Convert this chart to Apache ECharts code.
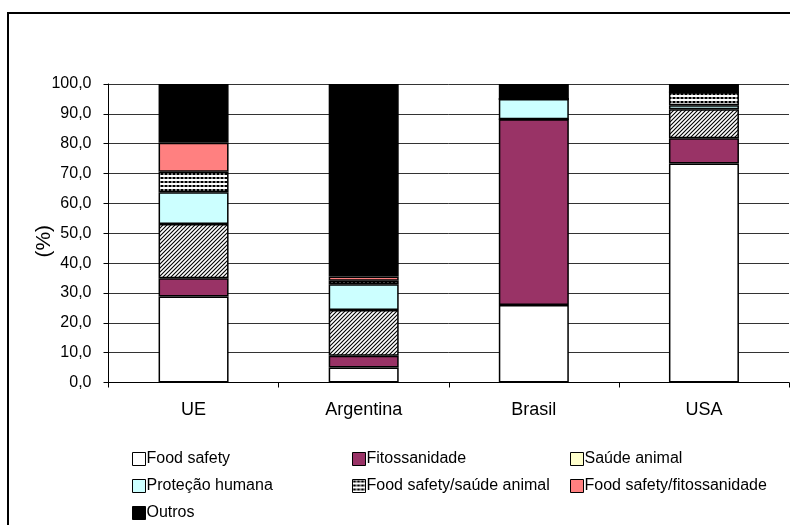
<!DOCTYPE html>
<html>
<head>
<meta charset="utf-8">
<script src="https://cdn.jsdelivr.net/npm/echarts@6/dist/echarts.min.js"></script>
<style>
  html, body { margin: 0; padding: 0; background: #fff; }
  #chart { width: 790px; height: 525px; }
</style>
</head>
<body>
<div id="chart"></div>
<script>
// Share (%) of notifications by category, per market
const categories = ['UE', 'Argentina', 'Brasil', 'USA'];
const foodSafety       = [28.8,  5.0, 26.0, 73.4];
const fitossanidade    = [ 6.1,  4.0, 62.2,  8.4];
const saudeAnimal      = [18.2, 15.3,  0.0,  9.7];
const protecaoHumana   = [10.6,  8.6,  6.8,  1.4];
const fsSaudeAnimal    = [ 6.9,  1.2,  0.0,  4.3];
const fsFitossanidade  = [ 9.7,  1.4,  0.0,  0.0];
const outros           = [19.7, 64.5,  5.0,  2.8];
const yTicks = [0, 10, 20, 30, 40, 50, 60, 70, 80, 90, 100];

const FONT = '"Liberation Sans", Arial, sans-serif';

// Diagonal hatch fill
function hatchPattern() {
  const c = document.createElement('canvas');
  c.width = 4; c.height = 4;
  const g = c.getContext('2d');
  g.fillStyle = '#fff'; g.fillRect(0, 0, 4, 4);
  g.strokeStyle = '#000'; g.lineWidth = 1.1;
  g.beginPath();
  g.moveTo(-1, 5); g.lineTo(5, -1);
  g.moveTo(-1, 1); g.lineTo(1, -1);
  g.moveTo(3, 5); g.lineTo(5, 3);
  g.stroke();
  return c;
}
// Dotted fill: rows of small black dots
function dotPattern() {
  const c = document.createElement('canvas');
  c.width = 4; c.height = 4;
  const g = c.getContext('2d');
  g.fillStyle = '#fff'; g.fillRect(0, 0, 4, 4);
  g.fillStyle = '#000';
  g.fillRect(1, 1, 2, 2);
  g.fillRect(0, 1.5, 4, 1);
  return c;
}

const seriesDefs = [
  { name: 'Food safety', data: foodSafety, color: '#ffffff' },
  { name: 'Fitossanidade', data: fitossanidade, color: '#993366' },
  { name: 'Saúde animal', data: saudeAnimal, color: { image: hatchPattern(), repeat: 'repeat' } },
  { name: 'Proteção humana', data: protecaoHumana, color: '#ccffff' },
  { name: 'Food safety/saúde animal', data: fsSaudeAnimal, color: { image: dotPattern(), repeat: 'repeat' } },
  { name: 'Food safety/fitossanidade', data: fsFitossanidade, color: '#ff8080' },
  { name: 'Outros', data: outros, color: '#000000' }
];

const chart = echarts.init(document.getElementById('chart'), null, { renderer: 'canvas' });

const legendBase = {
  orient: 'vertical',
  itemWidth: 13,
  itemHeight: 13,
  itemGap: 9,
  icon: 'rect',
  selectedMode: false,
  padding: 0,
  top: 450,
  itemStyle: { borderColor: '#000', borderWidth: 1 },
  textStyle: { fontFamily: FONT, fontSize: 16, color: '#000', lineHeight: 18, padding: [0, 0, 0, -4] }
};

chart.setOption({
  animation: false,
  backgroundColor: '#fff',
  textStyle: { fontFamily: FONT },
  graphic: [{
    type: 'rect',
    shape: { x: 8, y: 13, width: 800, height: 530 },
    style: { fill: 'none', stroke: '#000', lineWidth: 2 },
    z: -1
  }],
  grid: { left: 108.5, right: 1, top: 84, bottom: 142.5, containLabel: false },
  legend: [
    Object.assign({}, legendBase, { left: 132, data: ['Food safety', 'Proteção humana', 'Outros'] }),
    Object.assign({}, legendBase, { left: 352, data: ['Fitossanidade', 'Food safety/saúde animal'] }),
    Object.assign({}, legendBase, { left: 570, data: [
      { name: 'Saúde animal', itemStyle: { color: '#ffffcc' } },
      'Food safety/fitossanidade'
    ] })
  ],
  xAxis: {
    type: 'category',
    data: categories,
    boundaryGap: true,
    axisLine: { lineStyle: { color: '#000', width: 1 } },
    axisTick: { show: true, length: 5, lineStyle: { color: '#000' } },
    axisLabel: { color: '#000', fontSize: 18, margin: 19, fontFamily: FONT },
    splitLine: { show: false }
  },
  yAxis: {
    type: 'value',
    min: yTicks[0],
    max: yTicks[yTicks.length - 1],
    interval: yTicks[1] - yTicks[0],
    name: '(%)',
    nameLocation: 'middle',
    nameGap: 54,
    nameMoveOverlap: false,
    nameTextStyle: { color: '#000', fontSize: 21, fontFamily: FONT, padding: [0, 16, 0, 0] },
    axisLine: { show: true, lineStyle: { color: '#000', width: 1 } },
    axisTick: { show: true, length: 5, lineStyle: { color: '#000' } },
    axisLabel: {
      color: '#000', fontSize: 16, margin: 17, fontFamily: FONT,
      formatter: v => v.toFixed(1).replace('.', ',')
    },
    splitLine: { show: true, lineStyle: { color: '#333', width: 1 } }
  },
  series: seriesDefs.map(s => ({
    name: s.name,
    type: 'bar',
    stack: 'total',
    barWidth: 70,
    data: s.data,
    itemStyle: { color: s.color, borderColor: '#000', borderWidth: 1.5 },
    emphasis: { disabled: true }
  }))
});
</script>
</body>
</html>
